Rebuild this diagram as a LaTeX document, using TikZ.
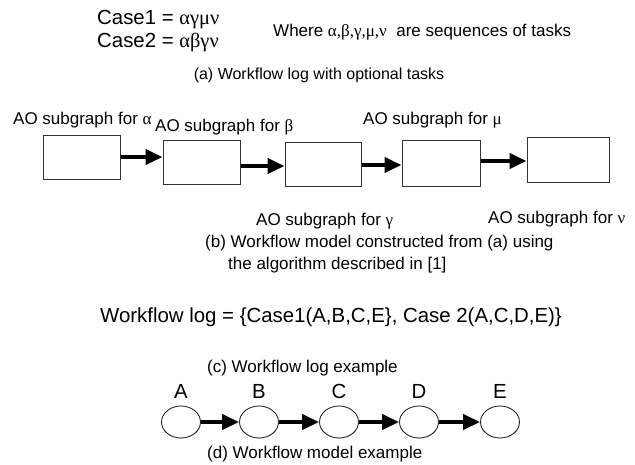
\documentclass[tikz,border=0pt]{standalone}
\usepackage{fontspec}
\setmainfont{Liberation Sans}
\newfontfamily\gr{Liberation Serif}
\usetikzlibrary{arrows.meta,shapes.geometric}

\tikzset{
  txt/.style={inner sep=0pt, anchor=base west},
  ctxt/.style={inner sep=0pt, anchor=base},
  big/.style={font=\fontsize{20.4}{24}\selectfont},
  midtext/.style={font=\fontsize{17}{20}\selectfont},
  captext/.style={font=\fontsize{16}{19}\selectfont},
  captextb/.style={font=\fontsize{17}{20}\selectfont},
  sub/.style={draw=black!80, line width=1pt, minimum width=77pt, minimum height=44pt, inner sep=0pt},
  ell/.style={draw=black!85, line width=0.9pt, ellipse, minimum width=39pt, minimum height=32pt, inner sep=0pt},
  flow/.style={line width=4pt, -{Triangle[length=17pt,width=15pt]}},
}

\begin{document}
\begin{tikzpicture}[x=1pt,y=-1pt]
\useasboundingbox (0,0) rectangle (635,464);

% (a) workflow log with optional tasks
\node[txt,big] (c1) at (97,24) {Case1 = {\gr αγμν}};
\node[txt,big] (c2) at (97,47) {Case2 = {\gr αβγν}};
\node[txt,midtext] (where) at (273,36) {Where {\gr α,β,γ,μ,ν}\ \ are sequences of tasks};
\node[ctxt,captext] (capa) at (319,79) {(a) Workflow log with optional tasks};

% (b) chain of AO subgraphs
\node[sub] (b1) at (81.5,157.5) {};
\node[sub] (b2) at (201.5,162.5) {};
\node[sub, minimum width=76pt] (b3) at (323,164.5) {};
\node[sub, minimum width=78pt, minimum height=46pt] (b4) at (441,163) {};
\node[sub, minimum width=82pt, minimum height=45pt] (b5) at (568,159.5) {};

\coordinate (y1) at (0,157);
\coordinate (y2) at (0,166);
\coordinate (y3) at (0,165);
\coordinate (y4) at (0,161);
\draw[flow] (b1.east |- y1) -- (b2.west |- y1);
\draw[flow] (b2.east |- y2) -- (b3.west |- y2);
\draw[flow] (b3.east |- y3) -- (b4.west |- y3);
\draw[flow] (b4.east |- y4) -- (b5.west |- y4);

\node[txt,midtext] (la) at (13,124) {AO subgraph for {\gr α}};
\node[txt,midtext] (lb) at (155,131) {AO subgraph for {\gr β}};
\node[txt,midtext] (lm) at (363,124) {AO subgraph for {\gr μ}};
\node[txt,midtext] (lg) at (256,225) {AO subgraph for {\gr γ}};
\node[txt,midtext] (ln) at (488,223) {AO subgraph for {\gr ν}};

\node[txt,captextb] (capb1) at (205,247) {(b) Workflow model constructed from (a) using};
\node[txt,captextb] (capb2) at (228,269) {the algorithm described in [1]};

% (c) workflow log example
\node[txt,big] (wlog) at (100,322) {Workflow log = \{Case1(A,B,C,E\}, Case 2(A,C,D,E)\}};
\node[txt,captextb] (capc) at (207,372) {(c) Workflow log example};

% (d) workflow model example
\node[ell] (eA) at (181,422) {};
\node[ell] (eB) at (259,422) {};
\node[ell] (eC) at (339,422) {};
\node[ell] (eD) at (419,422) {};
\node[ell] (eE) at (500,422) {};
\foreach \n in {A,B,C,D,E}
  \node[ctxt,big] (t\n) at ([yshift=7pt]e\n.north) {\n};
\draw[flow] (eA) -- (eB);
\draw[flow] (eB) -- (eC);
\draw[flow] (eC) -- (eD);
\draw[flow] (eD) -- (eE);

\node[txt,captextb] (capd) at (207,458) {(d) Workflow model example};
\end{tikzpicture}
\end{document}
